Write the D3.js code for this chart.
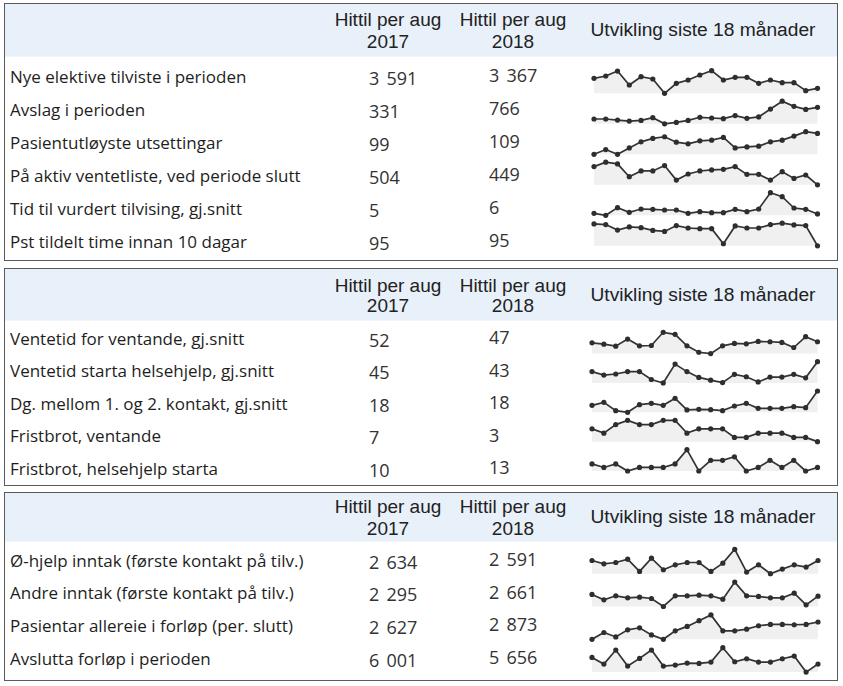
<!DOCTYPE html>
<html><head><meta charset="utf-8">
<script src="https://cdn.jsdelivr.net/npm/d3@7"></script>
<style>
html,body{margin:0;padding:0;background:#fff;}
svg{display:block;}
</style></head>
<body>
<svg id="chart" width="843" height="686"></svg>
<script>
// ---------- DATA ----------
const headerCol2017 = ["Hittil per aug", "2017"];
const headerCol2018 = ["Hittil per aug", "2018"];
const headerTrend = "Utvikling siste 18 månader";

const panel1Labels = ["Nye elektive tilviste i perioden", "Avslag i perioden", "Pasientutløyste utsettingar",
  "På aktiv ventetliste, ved periode slutt", "Tid til vurdert tilvising, gj.snitt", "Pst tildelt time innan 10 dagar"];
const panel1Values2017 = ["3 591", "331", "99", "504", "5", "95"];
const panel1Values2018 = ["3 367", "766", "109", "449", "6", "95"];
const panel1Trend1 = [445, 452, 467, 425, 450, 443, 400, 430, 440, 455, 468, 440, 448, 448, 430, 440, 432, 432, 408, 415];
const panel1Trend2 = [53, 53, 50, 47, 49, 57, 39, 43, 49, 58, 56, 54, 63, 55, 59, 82, 105, 90, 81, 87];
const panel1Trend3 = [8, 22, 8, 27, 45, 55, 60, 44, 39, 48, 50, 58, 27, 30, 32, 45, 50, 62, 75, 70];
const panel1Trend4 = [525, 538, 533, 495, 512, 512, 528, 485, 503, 512, 515, 517, 525, 502, 502, 485, 510, 490, 500, 471];
const panel1Trend5 = [25, 19, 42, 28, 38, 37, 35, 35, 25, 30, 27, 27, 37, 30, 38, 87, 75, 41, 37, 23];
const panel1Trend6 = [83, 81, 65, 74, 72, 64, 61, 78, 71, 69, 69, 25, 77, 71, 71, 81, 85, 80, 78, 19];

const panel2Labels = ["Ventetid for ventande, gj.snitt", "Ventetid starta helsehjelp, gj.snitt",
  "Dg. mellom 1. og 2. kontakt, gj.snitt", "Fristbrot, ventande", "Fristbrot, helsehjelp starta"];
const panel2Values2017 = ["52", "45", "18", "7", "10"];
const panel2Values2018 = ["47", "43", "18", "3", "13"];
const panel2Trend1 = [82, 78, 72, 93, 73, 74, 113, 107, 73, 54, 50, 73, 80, 79, 86, 85, 83, 68, 100, 85];
const panel2Trend2 = [75, 65, 68, 75, 75, 52, 42, 97, 75, 58, 50, 43, 67, 60, 45, 59, 59, 67, 57, 104];
const panel2Trend3 = [44, 53, 28, 23, 46, 50, 44, 65, 30, 32, 31, 28, 42, 50, 35, 35, 35, 40, 37, 87];
const panel2Trend4 = [4, 3, 5, 6, 5, 5, 6, 6, 3, 4, 4, 4, 2, 2, 3, 3, 3, 2, 2, 1];
const panel2Trend5 = [3, 2, 3, 1, 2, 2, 2, 3, 7, 1, 4, 4, 5, 1, 2, 4, 2, 4, 1, 2];

const panel3Labels = ["Ø-hjelp inntak (første kontakt på tilv.)", "Andre inntak (første kontakt på tilv.)",
  "Pasientar allereie i forløp (per. slutt)", "Avslutta forløp i perioden"];
const panel3Values2017 = ["2 634", "2 295", "2 627", "6 001"];
const panel3Values2018 = ["2 591", "2 661", "2 873", "5 656"];
const panel3Trend1 = [338, 328, 332, 342, 305, 345, 310, 325, 332, 332, 305, 330, 372, 303, 325, 298, 312, 325, 318, 338];
const panel3Trend2 = [336, 320, 332, 326, 328, 324, 300, 332, 332, 334, 332, 322, 373, 332, 330, 326, 326, 340, 305, 331];
const panel3Trend3 = [303, 323, 310, 331, 337, 316, 303, 328, 341, 358, 375, 328, 328, 333, 343, 347, 347, 346, 347, 354];
const panel3Trend4 = [748, 728, 770, 722, 745, 770, 722, 725, 731, 730, 734, 777, 735, 744, 734, 734, 744, 752, 704, 728];

// ---------- LAYOUT ----------
const panels = [
  { top: 3, bottom: 260, headEnd: 56, h1: 19, h2: 41, hT: 29,
    rowY0: 76, rowStep: 33, sparkTop0: 70.7, sparkStep: 30.5, sparkH: 22.6, x0: 594, x1: 817.5,
    labels: panel1Labels, v17: panel1Values2017, v18: panel1Values2018,
    trends: [panel1Trend1, panel1Trend2, panel1Trend3, panel1Trend4, panel1Trend5, panel1Trend6] },
  { top: 268, bottom: 485, headEnd: 320, h1: 285, h2: 305, hT: 294,
    rowY0: 338, rowStep: 32.5, sparkTop0: 332.3, sparkStep: 29.35, sparkH: 21.3, x0: 592, x1: 817.5,
    labels: panel2Labels, v17: panel2Values2017, v18: panel2Values2018,
    trends: [panel2Trend1, panel2Trend2, panel2Trend3, panel2Trend4, panel2Trend5] },
  { top: 492, bottom: 680, headEnd: 541, h1: 506, h2: 528, hT: 516,
    rowY0: 560, rowStep: 32.7, sparkTop0: 549.3, sparkStep: 32.8, sparkH: 24.4, x0: 592, x1: 818,
    labels: panel3Labels, v17: panel3Values2017, v18: panel3Values2018,
    trends: [panel3Trend1, panel3Trend2, panel3Trend3, panel3Trend4] }
];

const svg = d3.select("#chart");
const boxL = 4.5, boxR = 837.5;
const col17 = 388, col18 = 513, colT = 703;
const val17X = 369, val18X = 489;
const labelFont = "'Open Sans', 'Noto Sans', sans-serif";
const headFont = "'Liberation Sans', Arial, sans-serif";

panels.forEach(p => {
  const g = svg.append("g");
  g.append("rect").attr("x", boxL).attr("y", p.top + 0.5)
    .attr("width", boxR - boxL).attr("height", p.headEnd - p.top)
    .attr("fill", "#e8f0fa");
  g.append("rect").attr("x", boxL).attr("y", p.top + 0.5)
    .attr("width", boxR - boxL).attr("height", p.bottom - p.top)
    .attr("fill", "none").attr("stroke", "#5a5a5a").attr("stroke-width", 1);

  // headers
  [[col17, headerCol2017], [col18, headerCol2018]].forEach(([cx, lines]) => {
    g.append("text").attr("x", cx).attr("y", p.h1).attr("text-anchor", "middle")
      .attr("dominant-baseline", "central").attr("font-family", headFont).attr("font-size", 19)
      .attr("fill", "#222").text(lines[0]);
    g.append("text").attr("x", cx).attr("y", p.h2).attr("text-anchor", "middle")
      .attr("dominant-baseline", "central").attr("font-family", headFont).attr("font-size", 19)
      .attr("fill", "#222").text(lines[1]);
  });
  g.append("text").attr("x", colT).attr("y", p.hT).attr("text-anchor", "middle")
    .attr("dominant-baseline", "central").attr("font-family", headFont).attr("font-size", 19.2)
    .attr("fill", "#222").text(headerTrend);

  // rows
  p.labels.forEach((lab, i) => {
    const cy = p.rowY0 + i * p.rowStep;
    g.append("text").attr("x", 10).attr("y", cy).attr("dominant-baseline", "central")
      .attr("font-family", labelFont).attr("font-size", 17).attr("fill", "#1e1e1e").text(lab);
    g.append("text").attr("x", val17X).attr("y", cy + 1.5).attr("dominant-baseline", "central")
      .attr("font-family", labelFont).attr("font-size", 18).attr("word-spacing", 2.5)
      .attr("fill", "#333").text(p.v17[i]);
    g.append("text").attr("x", val18X).attr("y", cy - 1).attr("dominant-baseline", "central")
      .attr("font-family", labelFont).attr("font-size", 18).attr("word-spacing", 2.5)
      .attr("fill", "#333").text(p.v18[i]);

    // sparkline
    const data = p.trends[i];
    const top = p.sparkTop0 + i * p.sparkStep;
    const x = d3.scaleLinear().domain([0, data.length - 1]).range([p.x0, p.x1]);
    const y = d3.scaleLinear().domain(d3.extent(data)).range([top + p.sparkH, top]);
    const area = d3.area().x((d, j) => x(j)).y0(top + p.sparkH).y1(d => y(d));
    const line = d3.line().x((d, j) => x(j)).y(d => y(d));
    g.append("path").attr("d", area(data)).attr("fill", "#f0f0f0");
    g.append("path").attr("d", line(data)).attr("fill", "none")
      .attr("stroke", "#333").attr("stroke-width", 1.7);
    g.selectAll(null).data(data).enter().append("circle")
      .attr("cx", (d, j) => x(j)).attr("cy", d => y(d)).attr("r", 2.6).attr("fill", "#2e2e2e");
  });
});
</script>
</body></html>
